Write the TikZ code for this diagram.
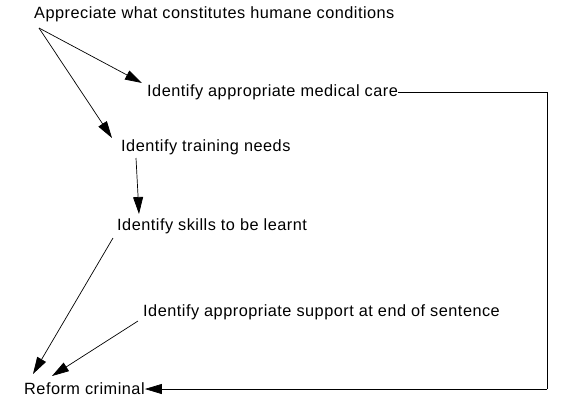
\documentclass[tikz,border=0pt]{standalone}
\usepackage{fontspec}
\setmainfont{Liberation Sans}[LetterSpace=3]
\usetikzlibrary{arrows.meta}
\begin{document}
\begin{tikzpicture}[x=1pt,y=-1pt,
  lbl/.style={anchor=west,inner sep=0pt,font=\fontsize{16.3}{18}\selectfont},
  arr/.style={-{Triangle[length=17pt,width=10pt]},line width=0.7pt},
  ln/.style={line width=0.7pt}]
\useasboundingbox[fill=white] (0,0) rectangle (565,408);
\node[lbl] (A) at (34,14) {Appreciate what constitutes humane conditions};
\node[lbl] (B) at (147,92) {Identify appropriate medical care};
\node[lbl] (C) at (121,147) {Identify training needs};
\node[lbl] (D) at (117,226) {Identify skills to be learnt};
\node[lbl] (E) at (143,312) {Identify appropriate support at end of sentence};
\node[lbl] (F) at (24,389) {Reform criminal};
\coordinate (a0) at (39,28);
\coordinate (r1) at (547,92);
\coordinate (r2) at (547,389);
\draw[arr] (a0) -- (142,83);
\draw[arr] (a0) -- (112,138);
\draw[arr] (136,158) -- (139,214);
\draw[arr] (113,238) -- (33,374);
\draw[arr] (138,321) -- (52,376);
\draw[ln] (B.east) -- (r1) -- (r2);
\draw[arr] (r2) -- (F.east);
\end{tikzpicture}
\end{document}
